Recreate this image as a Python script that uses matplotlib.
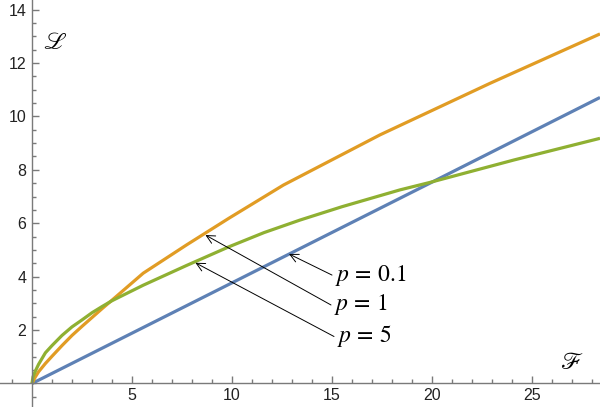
import matplotlib
matplotlib.use("Agg")
import matplotlib.pyplot as plt
from matplotlib.ticker import MultipleLocator, FixedLocator

plt.rcParams['mathtext.fontset'] = 'stix'

# curves
x_p01 = [0, 10, 20, 28.4]
y_p01 = [0, 3.77, 7.54, 10.71]

x_p1 = [0, 0.17, 0.33, 0.67, 1, 1.5, 2, 2.5, 3, 3.5, 4, 5.56, 7.73, 9.85, 12.57, 17.4, 22.9, 28.4]
y_p1 = [0, 0.25, 0.44, 0.75, 1.02, 1.42, 1.8, 2.14, 2.47, 2.8, 3.12, 4.13, 5.19, 6.19, 7.43, 9.31, 11.24, 13.09]

x_p5 = [0, 0.05, 0.17, 0.33, 0.67, 1, 1.5, 2, 2.5, 3, 3.5, 4, 5.56, 7.73, 9.85,
        11.6, 13.4, 15.5, 18.4, 19.9, 24.1, 28.4]
y_p5 = [0, 0.25, 0.47, 0.72, 1.15, 1.42, 1.8, 2.12, 2.38, 2.65, 2.88, 3.1, 3.68, 4.42, 5.12,
        5.65, 6.12, 6.62, 7.25, 7.53, 8.37, 9.18]

labels = [r'$p\,=\,0.1$', r'$p\,=\,1$', r'$p\,=\,5$']
tips = [(12.85, 4.85), (8.67, 5.56), (8.17, 4.52)]
tails = [(15.0, 4.06), (14.95, 2.94), (15.1, 1.76)]

fig = plt.figure(figsize=(6, 4.07), dpi=100)
ax = fig.add_axes([0, 0, 1, 1])

ax.plot(x_p01, y_p01, color='#5E81B5', lw=2.3, solid_capstyle='butt')
ax.plot(x_p1, y_p1, color='#E19C24', lw=2.3, solid_capstyle='butt')
ax.plot(x_p5, y_p5, color='#8FB032', lw=2.3, solid_capstyle='butt')

for lab, tip, tail in zip(labels, tips, tails):
    ax.annotate('', xy=tip, xytext=tail,
                arrowprops=dict(arrowstyle='->', color='black', lw=0.7,
                                shrinkA=0, shrinkB=0, mutation_scale=15))
    ax.text(tail[0] + 0.15, tail[1], lab, fontsize=17, va='center', ha='left')

ax.set_xlim(-1.6, 28.4)
ax.set_ylim(-0.88, 14.36)

for s in ['top', 'right']:
    ax.spines[s].set_visible(False)
ax.spines['left'].set_position(('data', 0))
ax.spines['bottom'].set_position(('data', 0))
for s in ['left', 'bottom']:
    ax.spines[s].set_color('#7a7a7a')
    ax.spines[s].set_linewidth(1.0)

ax.xaxis.set_major_locator(FixedLocator([5, 10, 15, 20, 25]))
ax.xaxis.set_minor_locator(MultipleLocator(1))
ax.yaxis.set_major_locator(FixedLocator([2, 4, 6, 8, 10, 12, 14]))
ax.yaxis.set_minor_locator(MultipleLocator(0.5))

ax.tick_params(which='both', direction='in', color='#7a7a7a', width=1.0,
               labelsize=11.5, labelcolor='#222222')
ax.tick_params(which='major', length=5)
ax.tick_params(which='minor', length=3)
ax.tick_params(axis='x', pad=3)
ax.tick_params(axis='y', pad=4)
for t in ax.get_xticklabels() + ax.get_yticklabels():
    t.set_family('Liberation Sans')

ax.text(1.15, 12.8, r'$\mathscr{L}$', fontsize=17, ha='center', va='center')
ax.text(27.0, 0.8, r'$\mathscr{F}$', fontsize=17, ha='center', va='center')

fig.savefig('out.png', dpi=100)
